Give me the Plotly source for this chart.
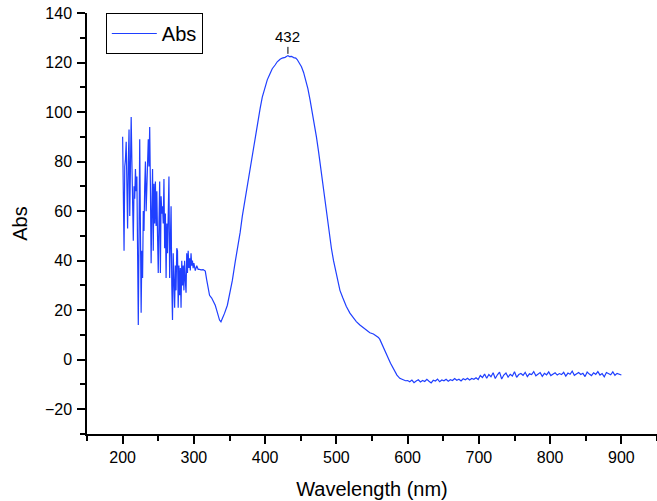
import plotly.graph_objects as go

# UV region (noisy), 1 nm steps 200-300
uv_nm = list(range(200, 301))
uv_abs = [
    90, 62, 44, 78, 81, 88, 70, 53, 80, 93,
    58, 75, 98, 80, 62, 48, 70, 65, 77, 68,
    74, 40, 14, 50, 89, 52, 19, 44, 33, 60,
    52, 70, 80, 60, 72, 85, 89, 78, 94, 70,
    39, 60, 77, 44, 71, 55, 72, 54, 68, 50,
    35, 55, 72, 35, 66, 59, 62, 55, 73, 45,
    59, 33, 55, 43, 66, 74, 33, 43, 62, 30,
    16, 43, 30, 21, 38, 28, 45, 44, 21, 38,
    26, 37, 21, 40, 30, 38, 28, 40, 32, 27,
    43, 35, 44, 37, 41, 36, 43, 38, 40, 37,
    39,
]

# plasmon band
band_nm = [
    302, 304, 306, 308, 310, 313, 316, 318, 320, 322,
    325, 328, 330, 332, 334, 336, 338, 340, 343, 347,
    350, 354, 358, 361, 365, 368, 372, 375, 379, 382,
    386, 389, 393, 396, 400, 403, 407, 410, 414, 417,
    421, 424, 428, 430, 432, 434, 437, 440, 443, 445,
    448, 451, 454, 457, 460, 463, 466, 469, 472, 475,
    478, 481, 484, 487, 490, 493, 496, 499, 502, 505,
    509, 514, 519, 524, 528, 533, 538, 542, 547, 552,
    556, 559, 561, 563, 566, 568, 571, 573, 576, 578,
    580, 582, 585, 589, 593, 597,
]
band_abs = [
    36, 38, 36.5, 36.5, 36.3, 36.4, 35.8, 32.2, 28, 26,
    24.9, 23.4, 22, 20, 18, 16, 15.3, 16.5, 18.7, 22,
    26, 32, 39.5, 44, 51.5, 58, 65, 71, 78, 84,
    90, 96, 101.5, 106, 110.2, 113, 115.6, 117.5, 119, 120.3,
    121.3, 121.8, 122.1, 122.5, 122.8, 122.4, 122.5, 122, 121.8, 121.2,
    120, 118.3, 116, 113, 109.5, 105, 100.5, 96, 90, 84,
    77.5, 71, 64, 57, 50.5, 45, 40, 35.5, 31.5, 28,
    25, 21.5, 18.8, 16.7, 15.4, 14, 12.8, 12, 10.9, 10.4,
    9.6, 9, 8.2, 6.8, 5.1, 3.9, 1.8, 0.5, -1.4, -2.4,
    -3.8, -4.9, -6.2, -7.5, -8.1, -8.5,
]

# baseline tail, 3 nm steps 600-900
tail_nm = list(range(600, 901, 3))
tail_abs = [
    -8.4, -8.9, -8.2, -9.3, -8.6, -8.1, -9.0, -8.4, -8.8, -7.9,
    -8.7, -9.4, -8.3, -8.6, -7.8, -8.9, -8.2, -8.5, -7.9, -8.7,
    -8.1,
    -8.4, -7.6, -8.3, -7.9, -8.6, -7.7, -8.1, -7.5, -8.2, -7.6,
    -7.9, -7.3, -8.0,
    -6.4, -7.2, -5.8, -7.5, -6.0, -6.9, -5.3, -7.6, -6.1, -5.0,
    -7.8, -6.2, -5.4, -7.0, -5.9, -6.6, -4.9, -7.1, -6.0, -5.6,
    -6.3, -5.1, -6.8, -5.7, -6.0, -4.8, -6.5, -5.9, -5.2, -6.7,
    -5.5, -6.1, -4.9, -6.4, -5.8, -5.3, -6.2, -5.6, -6.0, -5.1,
    -6.6, -5.4, -5.9, -4.6, -6.3, -5.7, -5.2, -6.0, -5.5, -6.8,
    -5.0, -5.8, -6.4, -5.3, -5.9, -4.8, -6.2, -5.6, -6.9, -5.2,
    -5.7, -6.1, -4.9, -6.3, -5.5, -5.8, -6.2,
]

peak_nm = 432
peak_abs = 123.5

wl = uv_nm + band_nm + tail_nm
ab = uv_abs + band_abs + tail_abs

fig = go.Figure()
fig.add_trace(go.Scatter(
    x=wl, y=ab, mode="lines", name="Abs",
    line=dict(color="#1f3fff", width=1.2)
))

fig.add_annotation(
    x=peak_nm, y=peak_abs, text=str(peak_nm),
    showarrow=True, arrowhead=0, arrowwidth=1, arrowcolor="black",
    ax=0, ay=-17, font=dict(size=15, color="black")
)

axis_common = dict(
    showline=True, linecolor="black", linewidth=1.5,
    ticks="outside", ticklen=8, tickwidth=1.5, tickcolor="black",
    showgrid=False, zeroline=False,
    tickfont=dict(size=16, color="black"),
    ticklabeloverflow="allow",
)

fig.update_xaxes(
    range=[150, 950], dtick=100, tick0=0,
    minor=dict(ticks="outside", ticklen=5, tickwidth=1.5, tickcolor="black", dtick=50, tick0=0),
    title=dict(text="Wavelength (nm)", font=dict(size=20), standoff=17),
    automargin=False, **axis_common
)
fig.update_yaxes(
    range=[-30, 140], dtick=20, tick0=0,
    minor=dict(ticks="outside", ticklen=5, tickwidth=1.5, tickcolor="black", dtick=10, tick0=0),
    title=dict(text="Abs", font=dict(size=20), standoff=12),
    automargin=False, ticklabelstandoff=2, **axis_common
)

fig.update_layout(
    width=657, height=501,
    margin=dict(l=87, r=0, t=13, b=67),
    plot_bgcolor="white", paper_bgcolor="white",
    font=dict(family="Liberation Sans, Arial, sans-serif", color="black"),
    showlegend=True,
    legend=dict(
        x=0.033, y=1.0, xanchor="left", yanchor="top",
        bordercolor="black", borderwidth=1, bgcolor="white",
        font=dict(size=20), itemwidth=45,
    ),
)

# drop the default page margin so the figure sits flush in the window
fig.write_html(
    "out.html",
    config={"displayModeBar": False},
    post_script="document.body.style.margin='0';",
)
